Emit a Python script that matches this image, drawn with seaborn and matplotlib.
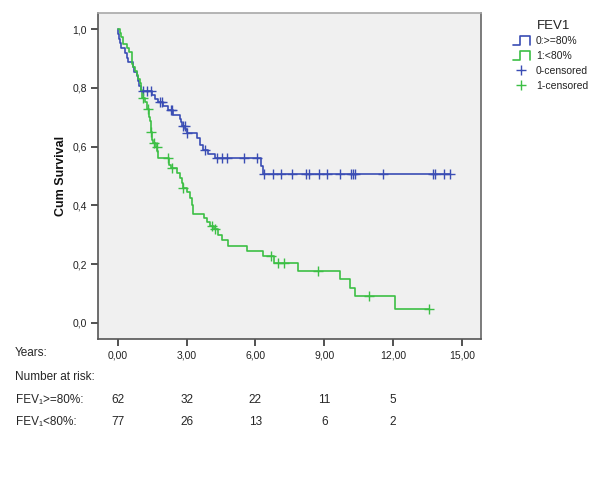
import numpy as np
import pandas as pd
import seaborn as sns
import matplotlib
matplotlib.use("Agg")
import matplotlib.pyplot as plt
from matplotlib.lines import Line2D
from matplotlib.legend_handler import HandlerBase
from matplotlib.transforms import blended_transform_factory

# ---------------- data ----------------
legend_title = "FEV1"
group_labels = ["0:>=80%", "1:<80%"]
censor_labels = ["0-censored", "1-censored"]

# Group 0 (FEV1 >= 80%): step times and survival after each step
blue_times = [0.00, 0.03, 0.06, 0.10, 0.14, 0.32, 0.42, 0.45, 0.65, 0.70, 0.83, 0.88,
              0.94, 1.00, 1.48, 1.63, 1.77, 1.99, 2.20, 2.42, 2.71, 2.75, 2.79, 2.95,
              3.00, 3.44, 3.59, 3.73, 3.95, 4.24, 6.23, 6.35]
blue_surv = [1.000, 0.984, 0.968, 0.952, 0.935, 0.919, 0.903, 0.887, 0.871, 0.855, 0.839, 0.823,
             0.806, 0.790, 0.776, 0.762, 0.752, 0.739, 0.725, 0.709, 0.694, 0.683, 0.670, 0.660,
             0.646, 0.629, 0.606, 0.589, 0.575, 0.561, 0.535, 0.508]
blue_censor = [1.09, 1.29, 1.44, 1.84, 1.92, 2.30, 2.37, 2.86, 2.93, 3.02, 3.80, 4.34,
               4.54, 4.78, 5.50, 6.08, 6.37, 6.78, 7.10, 7.58, 8.20, 8.35, 8.77, 9.13,
               9.69, 10.15, 10.24, 10.35, 11.57, 13.75, 13.84, 14.22, 14.48]

# Group 1 (FEV1 < 80%)
green_times = [0.00, 0.08, 0.15, 0.25, 0.39, 0.50, 0.60, 0.64, 0.68, 0.75, 0.83, 0.90,
               0.97, 1.02, 1.06, 1.19, 1.26, 1.38, 1.41, 1.44, 1.50, 1.55, 1.65, 1.72,
               1.75, 1.77, 2.25, 2.30, 2.57, 2.71, 2.78, 2.83, 3.00, 3.15, 3.22, 3.29,
               3.76, 3.88, 4.02, 4.20, 4.38, 4.53, 4.82, 5.65, 6.35, 6.81, 7.87, 9.69,
               10.12, 10.34, 12.10]
green_surv = [1.000, 0.987, 0.974, 0.948, 0.935, 0.922, 0.909, 0.883, 0.870, 0.857, 0.844, 0.831,
              0.818, 0.792, 0.766, 0.753, 0.727, 0.701, 0.688, 0.650, 0.624, 0.611, 0.598, 0.585,
              0.573, 0.561, 0.538, 0.527, 0.510, 0.493, 0.476, 0.459, 0.447, 0.425, 0.402, 0.371,
              0.357, 0.345, 0.330, 0.319, 0.300, 0.283, 0.262, 0.246, 0.226, 0.203, 0.178, 0.149,
              0.120, 0.092, 0.047]
green_censor = [1.09, 1.33, 1.45, 1.60, 1.70, 2.20, 2.35, 2.85, 4.10, 4.24, 6.66, 6.98,
                7.25, 8.74, 10.96, 13.56]

x_ticks = [0, 3, 6, 9, 12, 15]
x_ticklabels = ["0,00", "3,00", "6,00", "9,00", "12,00", "15,00"]
y_ticks = [0.0, 0.2, 0.4, 0.6, 0.8, 1.0]
y_ticklabels = ["0,0", "0,2", "0,4", "0,6", "0,8", "1,0"]

risk_times = [0, 3, 6, 9, 12]
risk_high = [62, 32, 22, 11, 5]
risk_low = [77, 26, 13, 6, 2]

BLUE = "#3A4DB4"
GREEN = "#3CBF45"

# ---------------- style ----------------
sns.set_theme(style="white")
plt.rcParams["font.family"] = ["Liberation Sans", "DejaVu Sans"]

fig = plt.figure(figsize=(6, 4.8), dpi=100)
fig.patch.set_facecolor("white")
ax = fig.add_axes([98 / 600, 1 - 339 / 480, (481 - 98) / 600, (339 - 12.7) / 480])
ax.set_facecolor("#F0F0F0")


def km_frame(times, surv, censor):
    end = max(max(times), max(censor))
    t = list(times) + [end]
    s = list(surv) + [surv[-1]]
    line = pd.DataFrame({"t": t, "s": s})
    idx = np.searchsorted(np.array(times), np.array(censor), side="right") - 1
    cens = pd.DataFrame({"t": censor, "s": np.array(surv)[idx]})
    return line, cens


b_line, b_cens = km_frame(blue_times, blue_surv, blue_censor)
g_line, g_cens = km_frame(green_times, green_surv, green_censor)

sns.lineplot(data=b_line, x="t", y="s", ax=ax, color=BLUE, lw=1.2,
             drawstyle="steps-post", estimator=None, sort=False)
sns.lineplot(data=g_line, x="t", y="s", ax=ax, color=GREEN, lw=1.2,
             drawstyle="steps-post", estimator=None, sort=False)
sns.scatterplot(data=b_cens, x="t", y="s", ax=ax, color=BLUE, marker="+",
                s=45, linewidth=1.0, zorder=3)
sns.scatterplot(data=g_cens, x="t", y="s", ax=ax, color=GREEN, marker="+",
                s=45, linewidth=1.0, zorder=3)

ax.set_xlim(-0.86, 15.83)
ax.set_ylim(-0.055, 1.056)
ax.set_xticks(x_ticks)
ax.set_xticklabels(x_ticklabels)
ax.set_yticks(y_ticks)
ax.set_yticklabels(y_ticklabels)
ax.tick_params(axis="both", which="both", bottom=True, left=True, direction="out",
               length=5, width=1.2, color="#333333", labelsize=7.5, labelcolor="#222222", pad=3)
ax.set_xlabel("")
ax.set_ylabel("Cum Survival", fontsize=9, fontweight="bold", color="#111111", labelpad=4)
for side, col in [("left", "#555555"), ("bottom", "#555555"), ("right", "#666666"), ("top", "#A8A8A8")]:
    ax.spines[side].set_color(col)
    ax.spines[side].set_linewidth(1.2)
    ax.spines[side].set_visible(True)


# ---------------- legend ----------------
class StepHandler(HandlerBase):
    def create_artists(self, legend, orig_handle, xdescent, ydescent, width, height,
                       fontsize, trans):
        x0, y0 = -xdescent, -ydescent
        xs = [x0, x0 + width * 0.4, x0 + width * 0.4, x0 + width, x0 + width]
        ys = [y0, y0, y0 + height, y0 + height, y0]
        return [Line2D(xs, ys, color=orig_handle.get_color(), lw=1.2, transform=trans)]


h_b = Line2D([], [], color=BLUE)
h_g = Line2D([], [], color=GREEN)
h_bc = Line2D([], [], color=BLUE, marker="+", ls="none", markersize=7, mew=1.0)
h_gc = Line2D([], [], color=GREEN, marker="+", ls="none", markersize=7, mew=1.0)
leg = fig.legend([h_b, h_g, h_bc, h_gc], group_labels + censor_labels,
                 handler_map={h_b: StepHandler(), h_g: StepHandler()},
                 loc="upper left", bbox_to_anchor=(513 / 600, 1 - 36 / 480),
                 frameon=False, fontsize=7.5,
                 handlelength=1.6, handleheight=1.0, handletextpad=0.6,
                 labelspacing=0.45, borderpad=0, borderaxespad=0)
for txt in leg.get_texts():
    txt.set_color("#222222")
fig.text(537 / 600, 1 - 26 / 480, legend_title, fontsize=9.5, color="#222222",
         ha="left", va="center")

# ---------------- number-at-risk table ----------------
tr = blended_transform_factory(ax.transData, fig.transFigure)
fs_tab = 8.5
fig.text(15 / 600, 1 - 353 / 480, "Years:", fontsize=fs_tab, va="center", ha="left")
fig.text(15 / 600, 1 - 377 / 480, "Number at risk:", fontsize=fs_tab, va="center", ha="left")
fig.text(16 / 600, 1 - 400 / 480, "FEV\u2081>=80%:", fontsize=fs_tab, va="center", ha="left")
fig.text(16 / 600, 1 - 422 / 480, "FEV\u2081<80%:", fontsize=fs_tab, va="center", ha="left")
for t, a, b in zip(risk_times, risk_high, risk_low):
    ax.text(t, 1 - 400 / 480, str(a), transform=tr, fontsize=fs_tab, ha="center", va="center")
    ax.text(t, 1 - 422 / 480, str(b), transform=tr, fontsize=fs_tab, ha="center", va="center")

fig.savefig("out.png", dpi=100, facecolor="white")
